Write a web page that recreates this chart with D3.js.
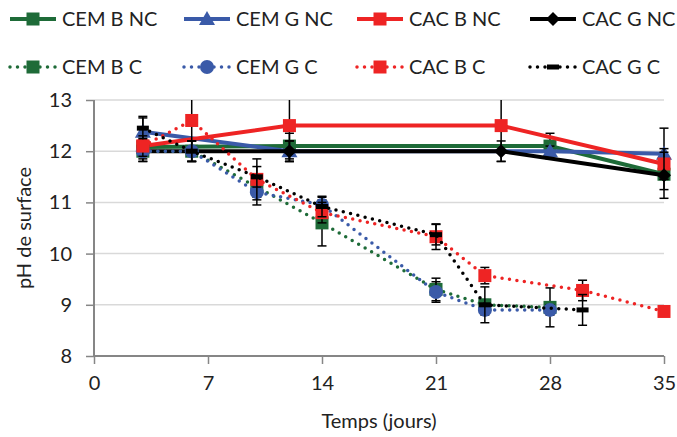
<!DOCTYPE html>
<html>
<head>
<meta charset="utf-8">
<script src="https://cdn.jsdelivr.net/npm/d3@7"></script>
<style>
  body { margin: 0; background: #fff; }
  svg { font-family: Lato, 'Open Sans', sans-serif; }
</style>
</head>
<body>
<script>
const w = 677
const h = 437

// series data (days, pH, error)
const names = ['CEM B NC', 'CEM G NC', 'CAC B NC', 'CAC G NC', 'CEM B C', 'CEM G C', 'CAC B C', 'CAC G C']

const cemBNC_t = [3, 12, 28, 35]
const cemBNC = [12.08, 12.1, 12.1, 11.55]
const cemBNC_e = [0.15, 0.25, 0.25, 0.3]

const cemGNC_t = [3, 12, 28, 35]
const cemGNC = [12.38, 12.0, 12.0, 11.95]
const cemGNC_e = [0.3, 0.2, 0.1, 0.5]

const cacBNC_t = [3, 12, 25, 35]
const cacBNC = [12.1, 12.5, 12.5, 11.75]
const cacBNC_e = [0.1, 0.7, 0.7, 0.3]

const cacGNC_t = [3, 12, 25, 35]
const cacGNC = [12.0, 12.0, 12.0, 11.53]
const cacGNC_e = [0.2, 0.2, 0.2, 0.45]

const cemBC_t = [3, 6, 10, 14, 21, 24, 28]
const cemBC = [12.0, 12.0, 11.3, 10.6, 9.3, 9.0, 8.95]
const cemBC_e = [0.2, 0.2, 0.2, 0.45, 0.22, 0.1, 0.38]

const cemGC_t = [3, 6, 10, 14, 21, 24, 28]
const cemGC = [12.0, 12.0, 11.2, 10.95, 9.25, 8.9, 8.9]
const cemGC_e = [0.15, 0.2, 0.25, 0.15, 0.2, 0.1, 0.1]

const cacBC_t = [3, 6, 10, 14, 21, 24, 30, 35]
const cacBC = [12.1, 12.6, 11.45, 10.8, 10.33, 9.57, 9.28, 8.87]
const cacBC_e = [0.2, 0.8, 0.4, 0.2, 0.25, 0.16, 0.2, 0.08]

const cacGC_t = [3, 6, 10, 14, 21, 24, 30]
const cacGC = [12.45, 12.0, 11.5, 10.92, 10.37, 9.0, 8.9]
const cacGC_e = [0.2, 0.2, 0.2, 0.2, 0.2, 0.35, 0.3]

const xTicks = [0, 7, 14, 21, 28, 35]
const yTicks = [8, 9, 10, 11, 12, 13]

const green = '#1e6b38'
const blue = '#3a5aa8'
const red = '#ee2424'
const black = '#000000'

const series = [
    {name: names[0], t: cemBNC_t, v: cemBNC, e: cemBNC_e, color: green, dotted: false, marker: 'square'},
    {name: names[1], t: cemGNC_t, v: cemGNC, e: cemGNC_e, color: blue, dotted: false, marker: 'triangle'},
    {name: names[2], t: cacBNC_t, v: cacBNC, e: cacBNC_e, color: red, dotted: false, marker: 'square'},
    {name: names[3], t: cacGNC_t, v: cacGNC, e: cacGNC_e, color: black, dotted: false, marker: 'diamond'},
    {name: names[4], t: cemBC_t, v: cemBC, e: cemBC_e, color: green, dotted: true, marker: 'square'},
    {name: names[5], t: cemGC_t, v: cemGC, e: cemGC_e, color: blue, dotted: true, marker: 'circle'},
    {name: names[6], t: cacBC_t, v: cacBC, e: cacBC_e, color: red, dotted: true, marker: 'square'},
    {name: names[7], t: cacGC_t, v: cacGC, e: cacGC_e, color: black, dotted: true, marker: 'dash'}
]

const margin = {left: 94, right: 13, top: 100, bottom: 81}

const x = d3.scaleLinear().domain([0, 35]).range([margin.left, w - margin.right])
const y = d3.scaleLinear().domain([8, 13]).range([h - margin.bottom, margin.top])

const svg = d3.select('body').append('svg')
    .attr('width', w)
    .attr('height', h)

svg.append('defs').append('clipPath').attr('id', 'clip')
    .append('rect')
    .attr('x', 0).attr('y', margin.top)
    .attr('width', w).attr('height', h - margin.top)

// gridlines
svg.append('g')
    .selectAll('line')
    .data(yTicks.filter(d => d > 8))
    .enter()
    .append('line')
    .attr('x1', x(0)).attr('x2', x(35))
    .attr('y1', d => y(d)).attr('y2', d => y(d))
    .style('stroke', '#d9d9d9')
    .style('stroke-width', 1.5)

// axes
const yAxis = svg.append('g')
    .attr('transform', `translate(${x(0)},0)`)
    .call(d3.axisLeft(y).tickValues(yTicks).tickSize(8).tickPadding(14).tickFormat(d3.format('d')))
const xAxis = svg.append('g')
    .attr('transform', `translate(0,${y(8)})`)
    .call(d3.axisBottom(x).tickValues(xTicks).tickSize(8).tickPadding(12).tickFormat(d3.format('d')))

for (const ax of [xAxis, yAxis]) {
    ax.select('.domain').style('stroke', '#868686').style('stroke-width', 2)
    ax.selectAll('.tick line').style('stroke', '#868686').style('stroke-width', 1.5)
    ax.selectAll('.tick text').style('font-size', '20px').style('fill', '#222')
        .style('font-family', 'Lato, sans-serif')
}
xAxis.select('.domain').attr('d', `M${x(0)},0H${x(35)}`)
yAxis.select('.domain').attr('d', `M0,${y(8)}V${y(13)}`)

svg.append('text')
    .attr('x', (x(0) + x(35)) / 2)
    .attr('y', 428)
    .attr('text-anchor', 'middle')
    .style('font-size', '20px')
    .style('fill', '#222')
    .text('Temps (jours)')

svg.append('text')
    .attr('transform', `translate(31,${(y(8) + y(13)) / 2}) rotate(-90)`)
    .attr('text-anchor', 'middle')
    .style('font-size', '20px')
    .style('fill', '#222')
    .text('pH de surface')

function drawMarker(g, type, color, cx, cy) {
    if (type === 'square') {
        g.append('rect').attr('x', cx - 6.5).attr('y', cy - 6.5).attr('width', 13).attr('height', 13).style('fill', color)
    } else if (type === 'triangle') {
        g.append('path').attr('d', `M${cx},${cy - 8}L${cx + 8},${cy + 6}L${cx - 8},${cy + 6}Z`).style('fill', color)
    } else if (type === 'diamond') {
        g.append('path').attr('d', `M${cx},${cy - 7}L${cx + 7},${cy}L${cx},${cy + 7}L${cx - 7},${cy}Z`).style('fill', color)
    } else if (type === 'circle') {
        g.append('circle').attr('cx', cx).attr('cy', cy).attr('r', 7).style('fill', color)
    } else if (type === 'dash') {
        g.append('rect').attr('x', cx - 6).attr('y', cy - 2.5).attr('width', 12).attr('height', 5).style('fill', color)
    }
}

const line = d3.line()
    .x(d => x(d[0]))
    .y(d => y(d[1]))

const plot = svg.append('g').attr('clip-path', 'url(#clip)')

series.forEach(function (s) {
    const pts = s.t.map((t, i) => [t, s.v[i], s.e[i]])
    const g = plot.append('g')

    g.append('path')
        .datum(pts)
        .attr('d', line)
        .style('fill', 'none')
        .style('stroke', s.color)
        .style('stroke-width', s.dotted ? 3.5 : 4)
        .style('stroke-linecap', s.dotted ? 'round' : 'butt')
        .style('stroke-dasharray', s.dotted ? '0,7.5' : null)

    // error bars
    const eb = g.append('g').style('stroke', '#000').style('stroke-width', 1.5)
    pts.forEach(function (p) {
        const px = x(p[0])
        eb.append('line').attr('x1', px).attr('x2', px).attr('y1', y(p[1] + p[2])).attr('y2', y(p[1] - p[2]))
        eb.append('line').attr('x1', px - 4.5).attr('x2', px + 4.5).attr('y1', y(p[1] + p[2])).attr('y2', y(p[1] + p[2]))
        eb.append('line').attr('x1', px - 4.5).attr('x2', px + 4.5).attr('y1', y(p[1] - p[2])).attr('y2', y(p[1] - p[2]))
    })

    pts.forEach(function (p) {
        drawMarker(g, s.marker, s.color, x(p[0]), y(p[1]))
    })
})

// legend
const legX = [10, 184, 357, 530]
const legY = [19, 67]

series.forEach(function (s, i) {
    const lx = legX[i % 4]
    const ly = legY[Math.floor(i / 4)]
    const g = svg.append('g')
    g.append('line')
        .attr('x1', lx).attr('x2', lx + 46)
        .attr('y1', ly).attr('y2', ly)
        .style('stroke', s.color)
        .style('stroke-width', s.dotted ? 3.5 : 4)
        .style('stroke-linecap', s.dotted ? 'round' : 'butt')
        .style('stroke-dasharray', s.dotted ? '0,7.5' : null)
    drawMarker(g, s.marker, s.color, lx + 23, ly)
    g.append('text')
        .attr('x', lx + 52)
        .attr('y', ly)
        .attr('dy', '0.36em')
        .style('font-size', '20px')
        .style('fill', '#222')
        .text(s.name)
})
</script>
</body>
</html>
